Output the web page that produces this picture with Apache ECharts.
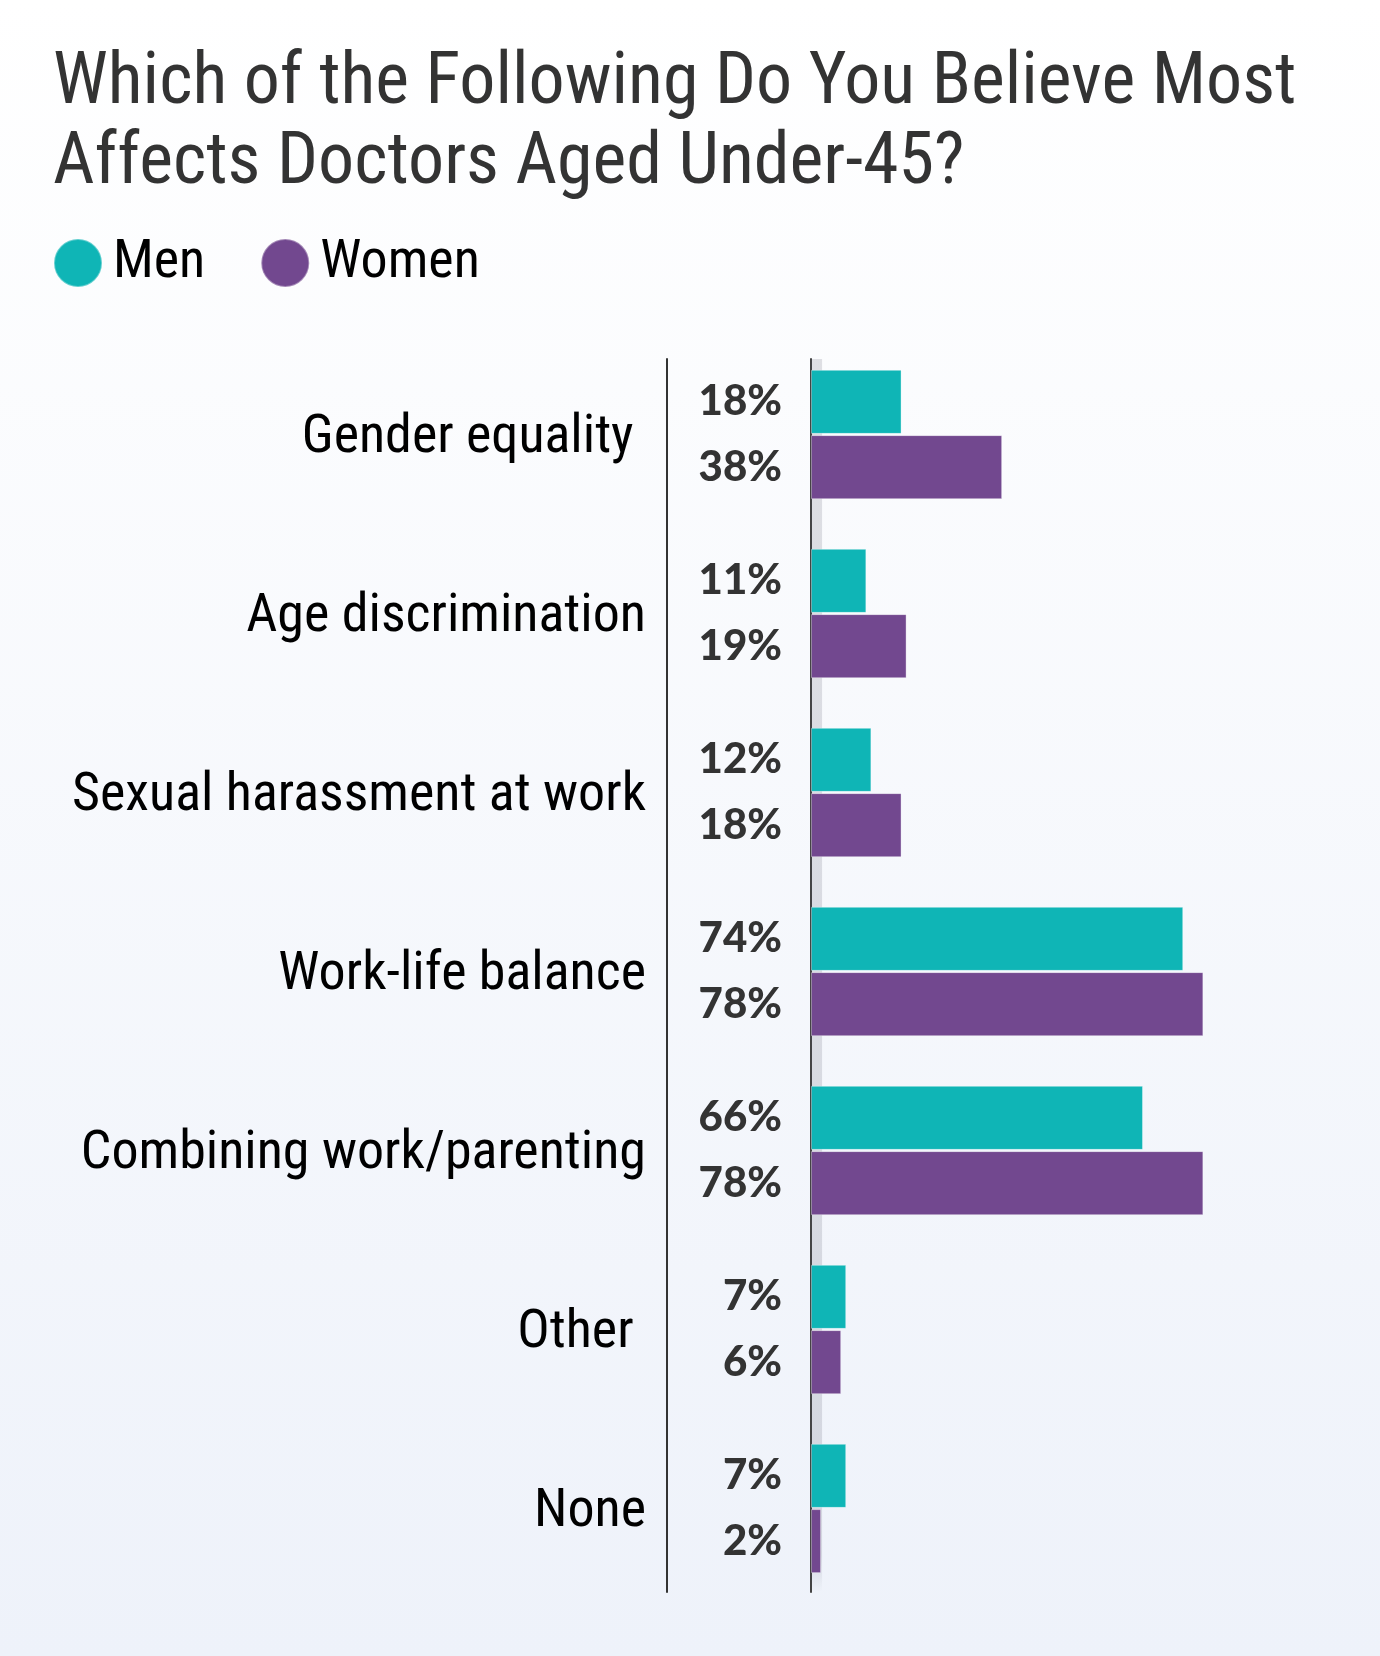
<!DOCTYPE html>
<html><head><meta charset="utf-8">
<script src="https://cdn.jsdelivr.net/npm/echarts@6/dist/echarts.min.js"></script>
<style>html,body{margin:0;padding:0;}#chart{width:1380px;height:1656px;}</style>
</head><body><div id="chart"></div>
<script>
var titleText = 'Which of the Following Do You Believe Most\nAffects Doctors Aged Under-45?';
var categories = ['Gender equality ', 'Age discrimination', 'Sexual harassment at work', 'Work-life balance', 'Combining work/parenting', 'Other ', 'None'];
var menValues = [18, 11, 12, 74, 66, 7, 7];
var womenValues = [38, 19, 18, 78, 78, 6, 2];
var seriesNames = ['Men', 'Women'];

var COND = '"Roboto Condensed", "Liberation Sans", sans-serif';
var chart = echarts.init(document.getElementById('chart'), null, {renderer: 'canvas'});
var valueLabel = {
  show: true, position: 'left', distance: 29,
  formatter: '{c}%', color: '#333', fontFamily: 'Lato, Roboto, sans-serif',
  fontWeight: 900, fontSize: 42
};
chart.setOption({
  backgroundColor: {type: 'linear', x: 0, y: 0, x2: 0, y2: 1,
    colorStops: [{offset: 0, color: '#ffffff'}, {offset: 1, color: '#eef2fa'}]},
  animation: false,
  title: {
    text: titleText, left: 48, top: 40,
    textStyle: {fontFamily: COND, fontWeight: 'normal', fontSize: 72, lineHeight: 80, color: '#333333'}
  },
  legend: {
    data: seriesNames, left: 48, top: 231, icon: 'circle',
    itemWidth: 48, itemHeight: 48, itemGap: 55,
    textStyle: {fontFamily: COND, fontSize: 54, color: '#000', padding: [0, 0, 0, 6]}
  },
  grid: [
    {left: 811, right: 66, top: 345, height: 1253, containLabel: false},
    {left: 811, right: 66, top: 359, height: 1233, containLabel: false},
    {left: 811, right: 66, top: 349, height: 1253, containLabel: false}
  ],
  xAxis: [
    {type: 'value', min: 0, max: 100, show: false, gridIndex: 0},
    {type: 'value', min: 0, max: 100, show: false, gridIndex: 1},
    {type: 'value', min: 0, max: 100, show: false, gridIndex: 2}
  ],
  yAxis: [
    {type: 'category', data: categories, inverse: true, gridIndex: 0,
     axisLine: {show: false}, axisTick: {show: false}, axisLabel: {show: false}},
    {type: 'category', data: categories, inverse: true, gridIndex: 2, position: 'left', offset: 144,
     axisLine: {show: false}, axisTick: {show: false},
     axisLabel: {show: true, margin: 21, fontFamily: COND, fontSize: 54, color: '#000'}},
    {type: 'category', data: categories, inverse: true, gridIndex: 1,
     axisLine: {show: true, lineStyle: {color: '#444', width: 2}},
     axisTick: {show: false}, axisLabel: {show: false}},
    {type: 'category', data: categories, inverse: true, gridIndex: 1, position: 'left', offset: 144,
     axisLine: {show: true, lineStyle: {color: '#333', width: 2}},
     axisTick: {show: false}, axisLabel: {show: false}}
  ],
  series: [
    {name: 'Men', type: 'bar', data: menValues, barWidth: 64, barGap: '2%', z: 2,
     xAxisIndex: 0, yAxisIndex: 0,
     itemStyle: {color: '#0fb5b6', borderColor: 'rgba(255,255,255,0.35)', borderWidth: 1},
     label: valueLabel},
    {name: 'Women', type: 'bar', data: womenValues, barWidth: 64, barGap: '2%', z: 2,
     xAxisIndex: 0, yAxisIndex: 0,
     itemStyle: {color: '#72488f', borderColor: 'rgba(255,255,255,0.35)', borderWidth: 1},
     label: valueLabel},
    {name: 'strip', type: 'line', data: [], z: 10, silent: true, xAxisIndex: 1, yAxisIndex: 2,
     markArea: {silent: true,
       itemStyle: {color: {type: 'linear', x: 0, y: 0, x2: 0, y2: 1,
         colorStops: [{offset: 0, color: 'rgba(70,70,90,0.16)'}, {offset: 0.97, color: 'rgba(70,70,90,0.16)'}, {offset: 1, color: 'rgba(70,70,90,0.0)'}]}},
       data: [[{xAxis: 0}, {xAxis: 2.2}]]}}
  ]
});
</script></body></html>
